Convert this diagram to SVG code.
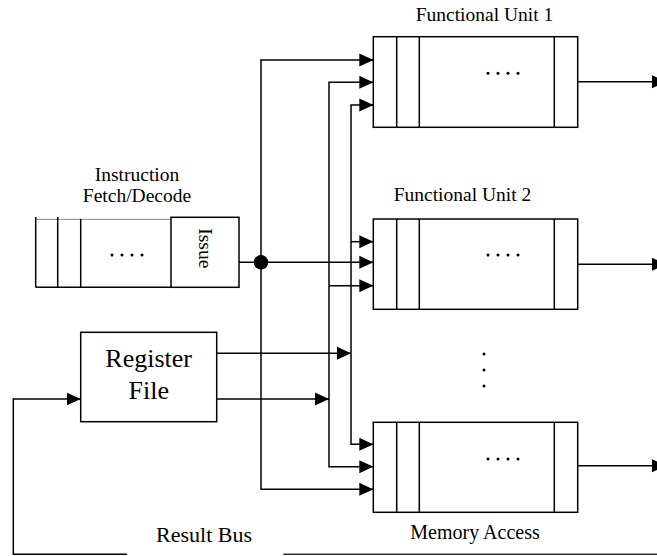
<svg xmlns="http://www.w3.org/2000/svg" width="657" height="556" viewBox="0 0 657 556">
  <style>
    .box { fill: #fff; stroke: #000; stroke-width: 1.5; }
    .ln { fill: none; stroke: #000; stroke-width: 1.5; }
    .wire { fill: none; stroke: #000; stroke-width: 1.5; }
    .arr { marker-end: url(#head); }
    .lbl { font-family: "Liberation Serif", "Times New Roman", serif; fill: #000; }
    .dot { fill: #000; }
  </style>
  <defs>
    <marker id="head" markerUnits="userSpaceOnUse" markerWidth="14" markerHeight="14" refX="14" refY="7" orient="auto">
      <path d="M0,0.5 L14,7 L0,13.5 Z" fill="#000"/>
    </marker>
  </defs>

  <rect width="657" height="556" fill="#fff"/>

  <!-- Instruction fetch/decode queue -->
  <g id="fetch-decode">
    <text class="lbl" x="137" y="181" font-size="19.5" text-anchor="middle">Instruction</text>
    <text class="lbl" x="137" y="202" font-size="19.5" text-anchor="middle">Fetch/Decode</text>
    <line x1="36" y1="219.3" x2="171" y2="219.3" stroke="#888" stroke-width="1"/>
    <line class="ln" x1="35.7" y1="287.3" x2="239" y2="287.3"/>
    <line class="ln" x1="35.7" y1="217" x2="35.7" y2="287.3"/>
    <line class="ln" x1="57.7" y1="217" x2="57.7" y2="287.3"/>
    <line class="ln" x1="80.7" y1="219" x2="80.7" y2="287.3"/>
    <g class="dot">
      <circle cx="112" cy="255" r="1.5"/><circle cx="122" cy="255" r="1.5"/>
      <circle cx="132" cy="255" r="1.5"/><circle cx="142" cy="255" r="1.5"/>
    </g>
  </g>

  <g id="issue">
    <rect class="box" x="171" y="217.3" width="68" height="70"/>
    <g transform="translate(205,248.3) rotate(90)">
      <text class="lbl" x="0" y="6.5" font-size="19.5" text-anchor="middle">Issue</text>
    </g>
  </g>

  <!-- Register file -->
  <g id="register-file">
    <rect class="box" x="80.7" y="332.3" width="136" height="89.4"/>
    <text class="lbl" x="148.7" y="366.7" font-size="26" text-anchor="middle">Register</text>
    <text class="lbl" x="148.7" y="399.3" font-size="26" text-anchor="middle">File</text>
  </g>

  <!-- Functional unit 1 -->
  <g id="functional-unit-1">
    <text class="lbl" x="484.5" y="21" font-size="19.5" text-anchor="middle">Functional Unit 1</text>
    <rect class="box" x="373.3" y="36.7" width="204.4" height="90.6"/>
    <line class="ln" x1="396.7" y1="36.7" x2="396.7" y2="127.3"/>
    <line class="ln" x1="419.3" y1="36.7" x2="419.3" y2="127.3"/>
    <line class="ln" x1="554.3" y1="36.7" x2="554.3" y2="127.3"/>
    <g class="dot">
      <circle cx="488" cy="73.3" r="1.5"/><circle cx="498" cy="73.3" r="1.5"/>
      <circle cx="508" cy="73.3" r="1.5"/><circle cx="518" cy="73.3" r="1.5"/>
    </g>
  </g>

  <!-- Functional unit 2 -->
  <g id="functional-unit-2">
    <text class="lbl" x="462.5" y="201" font-size="19.5" text-anchor="middle">Functional Unit 2</text>
    <rect class="box" x="373.3" y="219" width="204.4" height="90.3"/>
    <line class="ln" x1="396.7" y1="219" x2="396.7" y2="309.3"/>
    <line class="ln" x1="419.3" y1="219" x2="419.3" y2="309.3"/>
    <line class="ln" x1="554.3" y1="219" x2="554.3" y2="309.3"/>
    <g class="dot">
      <circle cx="488" cy="255" r="1.5"/><circle cx="498" cy="255" r="1.5"/>
      <circle cx="508" cy="255" r="1.5"/><circle cx="518" cy="255" r="1.5"/>
    </g>
  </g>

  <!-- Vertical ellipsis between units -->
  <g id="more-units" class="dot">
    <circle cx="484" cy="354" r="1.5"/>
    <circle cx="484" cy="370" r="1.5"/>
    <circle cx="484" cy="386" r="1.5"/>
  </g>

  <!-- Memory access unit -->
  <g id="memory-access">
    <rect class="box" x="373.3" y="422.3" width="204.4" height="90"/>
    <line class="ln" x1="396.7" y1="422.3" x2="396.7" y2="512.3"/>
    <line class="ln" x1="419.3" y1="422.3" x2="419.3" y2="512.3"/>
    <line class="ln" x1="554.3" y1="422.3" x2="554.3" y2="512.3"/>
    <g class="dot">
      <circle cx="488" cy="459" r="1.5"/><circle cx="498" cy="459" r="1.5"/>
      <circle cx="508" cy="459" r="1.5"/><circle cx="518" cy="459" r="1.5"/>
    </g>
    <text class="lbl" x="475" y="539" font-size="20" text-anchor="middle">Memory Access</text>
  </g>

  <!-- Result bus label -->
  <g id="result-bus">
    <text class="lbl" x="204" y="541.7" font-size="22" text-anchor="middle">Result Bus</text>
  </g>

  <!-- Connectors -->
  <g id="connectors">
    <!-- issue bus -->
    <line class="wire arr" x1="239" y1="262.3" x2="373.3" y2="262.3"/>
    <circle cx="261" cy="262.3" r="7.3" fill="#000"/>
    <polyline class="wire arr" points="261,262.3 261,60 373.3,60"/>
    <polyline class="wire arr" points="261,262.3 261,489.3 373.3,489.3"/>

    <!-- register operand bus A -->
    <polyline class="wire arr" points="329,285.7 329,82.3 373.3,82.3"/>
    <polyline class="wire arr" points="329,285.7 329,466.7 373.3,466.7"/>
    <line class="wire arr" x1="329" y1="285.7" x2="373.3" y2="285.7"/>
    <line class="wire arr" x1="216.7" y1="399" x2="329" y2="399"/>

    <!-- register operand bus B -->
    <polyline class="wire arr" points="351,241.7 351,105 373.3,105"/>
    <polyline class="wire arr" points="351,241.7 351,444.3 373.3,444.3"/>
    <line class="wire arr" x1="351" y1="241.7" x2="373.3" y2="241.7"/>
    <line class="wire arr" x1="216.7" y1="353.3" x2="351" y2="353.3"/>

    <!-- unit outputs -->
    <line class="wire arr" x1="577.7" y1="81.7" x2="666" y2="81.7"/>
    <line class="wire arr" x1="577.7" y1="264.3" x2="666" y2="264.3"/>
    <line class="wire arr" x1="577.7" y1="465.7" x2="666" y2="465.7"/>

    <!-- result bus back to register file -->
    <polyline class="wire arr" points="127,554.3 13.3,554.3 13.3,399 80.7,399"/>
    <line x1="283.3" y1="554.3" x2="657" y2="554.3" stroke="#333" stroke-width="1.5"/>
  </g>
</svg>
